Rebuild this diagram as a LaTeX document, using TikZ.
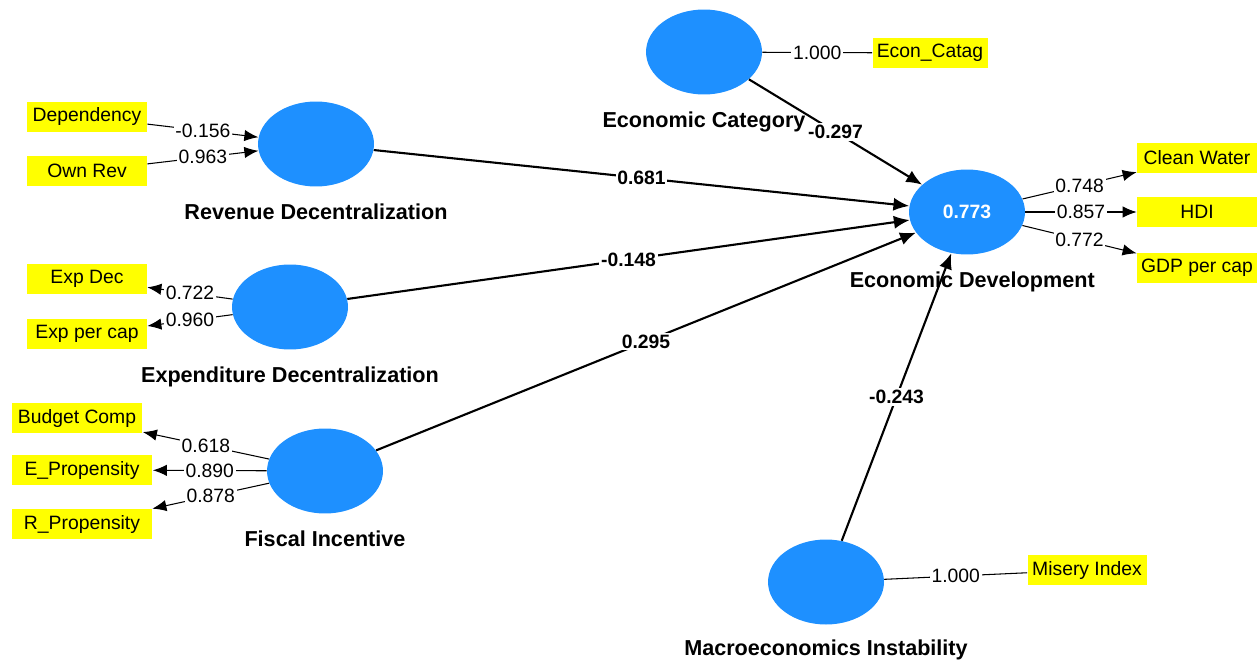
\documentclass[tikz,border=0pt]{standalone}
\usepackage{fontspec}
\setmainfont{Liberation Sans}
\usepackage{tikz}
\usetikzlibrary{positioning, shapes.geometric, arrows.meta}
\usepackage{xcolor}
\definecolor{lvblue}{RGB}{30,144,255}
\definecolor{mvyellow}{RGB}{255,255,0}

\tikzset{
  latent/.style={ellipse, fill=lvblue, minimum width=2.32cm, minimum height=1.7cm, inner sep=0pt},
  indicator/.style={fill=mvyellow, minimum height=0.6cm, minimum width=2.4cm, inner sep=2pt, font=\fontsize{11}{13}\selectfont},
  lvname/.style={font=\bfseries\fontsize{12.3}{14}\selectfont},
  coef/.style={fill=white, inner sep=1pt, font=\bfseries\fontsize{11}{13}\selectfont},
  loadlbl/.style={fill=white, inner sep=1pt, font=\fontsize{11}{13}\selectfont},
  inner/.style={-{Latex[length=9pt,width=7.5pt]}, line width=1.2pt},
  outer/.style={line width=0.6pt}
}

\begin{document}
\begin{tikzpicture}[x=0.02cm, y=-0.02cm, >={Latex[length=8pt,width=6.5pt]}]
\useasboundingbox (0,0) rectangle (1260,659);

% Latent variables
\node[latent] (ec) at (704,52) {};
\node[latent] (rd) at (316,144) {};
\node[latent] (xd) at (290,307) {};
\node[latent] (fi) at (325,471) {};
\node[latent, font=\bfseries\fontsize{11}{13}\selectfont, text=white] (ed) at (967,212) {0.773};
\node[latent] (mi) at (826,582) {};

% Latent names
\node[lvname, below=0.22cm of ec] {Economic Category};
\node[lvname, below=0.22cm of rd] {Revenue Decentralization};
\node[lvname, below=0.22cm of xd] {Expenditure Decentralization};
\node[lvname, below=0.22cm of fi] {Fiscal Incentive};
\node[lvname, below=0.22cm of ed, xshift=3] {Economic Development};
\node[lvname, below=0.18cm of mi] {Macroeconomics Instability};

% Indicators
\node[indicator] (dep) at (87,117) {Dependency};
\node[indicator] (own) at (87,171) {Own Rev};
\node[indicator] (expdec) at (87,279) {Exp Dec};
\node[indicator] (exppc) at (87,334) {Exp per cap};
\node[indicator, minimum width=2.62cm] (bud) at (77,418) {Budget Comp};
\node[indicator, minimum width=2.82cm] (eprop) at (82,470) {E\_Propensity};
\node[indicator, minimum width=2.82cm] (rprop) at (82,524) {R\_Propensity};
\node[indicator, minimum width=2.3cm] (catag) at (930,53) {Econ\_Catag};
\node[indicator] (water) at (1197,158) {Clean Water};
\node[indicator] (hdi) at (1197,212) {HDI};
\node[indicator] (gdp) at (1197,268) {GDP per cap};
\node[indicator, minimum width=2.38cm] (misery) at (1087,570) {Misery Index};

% Measurement model
\draw[outer, ->] (dep) -- node[loadlbl] {-0.156} (rd);
\draw[outer, ->] (own) -- node[loadlbl] {0.963} (rd);
\draw[outer, ->] (xd) -- node[loadlbl] {0.722} (expdec);
\draw[outer, ->] (xd) -- node[loadlbl] {0.960} (exppc);
\draw[outer, ->] (fi) -- node[loadlbl] {0.618} (bud);
\draw[outer, ->] (fi) -- node[loadlbl] {0.890} (eprop);
\draw[outer, ->] (fi) -- node[loadlbl] {0.878} (rprop);
\draw[outer] (ec) -- node[loadlbl] {1.000} (catag);
\draw[outer] (mi) -- node[loadlbl] {1.000} (misery);
\foreach \ind/\val in {water/0.748, hdi/0.857, gdp/0.772} {
    \draw[outer, ->] (ed) -- node[loadlbl] {\val} (\ind);
}

% Structural model
\draw[inner] (ec) -- node[coef] {-0.297} (ed);
\draw[inner] (rd) -- node[coef] {0.681} (ed);
\draw[inner] (xd) -- node[coef] {-0.148} (ed);
\draw[inner] (fi) -- node[coef] {0.295} (ed);
\draw[inner] (mi) -- node[coef] {-0.243} (ed);

\end{tikzpicture}
\end{document}
